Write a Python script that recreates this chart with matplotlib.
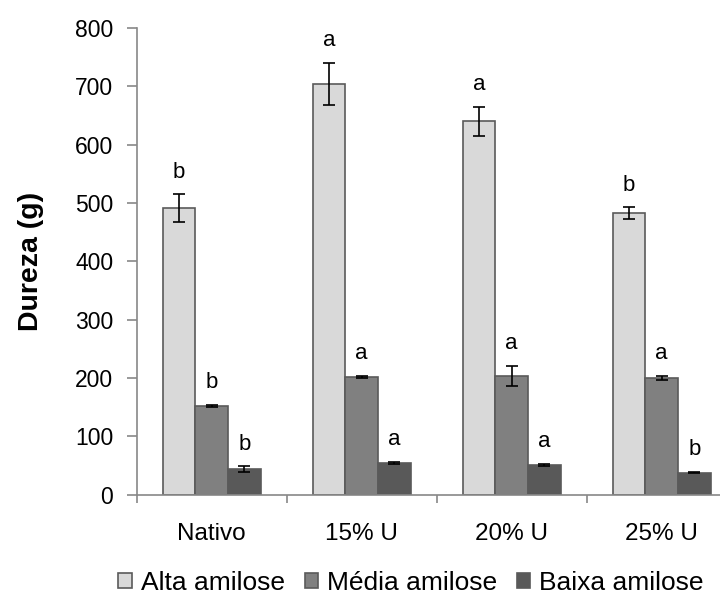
import numpy as np
import matplotlib.pyplot as plt

plt.rcParams['font.family'] = ['Liberation Sans', 'DejaVu Sans']

# dados de dureza (g) por tratamento
tratamentos = ['Nativo', '15% U', '20% U', '25% U']
series = ['Alta amilose', 'Média amilose', 'Baixa amilose']

alta = [491, 704, 640, 483]
media = [152, 202, 204, 200]
baixa = [44, 55, 51, 38]

alta_err = [24, 36, 25, 10]
media_err = [2, 2, 17, 4]
baixa_err = [5, 2, 2, 1]

alta_let = ['b', 'a', 'a', 'b']
media_let = ['b', 'a', 'a', 'a']
baixa_let = ['b', 'a', 'a', 'b']

cores = ['#d9d9d9', '#808080', '#595959']

fig = plt.figure(figsize=(7.2, 5.99), dpi=100)
ax = fig.add_axes([0.19, 0.174, 0.833, 0.779])

x = np.arange(len(tratamentos))
w = 0.218
valores = [alta, media, baixa]
erros = [alta_err, media_err, baixa_err]
letras = [alta_let, media_let, baixa_let]

for i in range(3):
    pos = x + (i - 1) * w
    ax.bar(pos, valores[i], w, color=cores[i], edgecolor='#5a5a5a',
           linewidth=1.2, label=series[i], zorder=2)
    ax.errorbar(pos, valores[i], yerr=erros[i], fmt='none', ecolor='black',
                elinewidth=1.2, capsize=4.5, capthick=1.2, zorder=3)
    for p, v, e, l in zip(pos, valores[i], erros[i], letras[i]):
        ax.annotate(l, (p, v + e), xytext=(0, 12), textcoords='offset points',
                    ha='center', va='baseline', fontsize=16)

ax.set_ylim(0, 800)
ax.set_yticks(range(0, 801, 100))
ax.set_xlim(-0.5, 3.5)
ax.set_xticks(x)
ax.set_xticklabels(tratamentos, fontsize=17.5)
ax.tick_params(axis='x', length=0, pad=20)
ax.set_xticks(np.arange(-0.5, 4, 1), minor=True)
ax.tick_params(axis='x', which='minor', length=6, color='#888888', width=1.2)
ax.tick_params(axis='y', labelsize=16.5, length=7, color='#888888', width=1.2, pad=10)
ax.set_ylabel('Dureza (g)', fontsize=20.5, fontweight='bold', labelpad=22)

for s in ['top', 'right']:
    ax.spines[s].set_visible(False)
ax.spines['left'].set_color('#888888')
ax.spines['bottom'].set_color('#888888')
ax.spines['left'].set_linewidth(1.2)
ax.spines['bottom'].set_linewidth(1.2)

fig.legend(loc='center', bbox_to_anchor=(0.571, 0.027), ncol=3, frameon=False,
           fontsize=19, handlelength=0.5, handleheight=0.5, handletextpad=0.35,
           columnspacing=0.75, borderpad=0)

fig.savefig('out.png', dpi=100)
